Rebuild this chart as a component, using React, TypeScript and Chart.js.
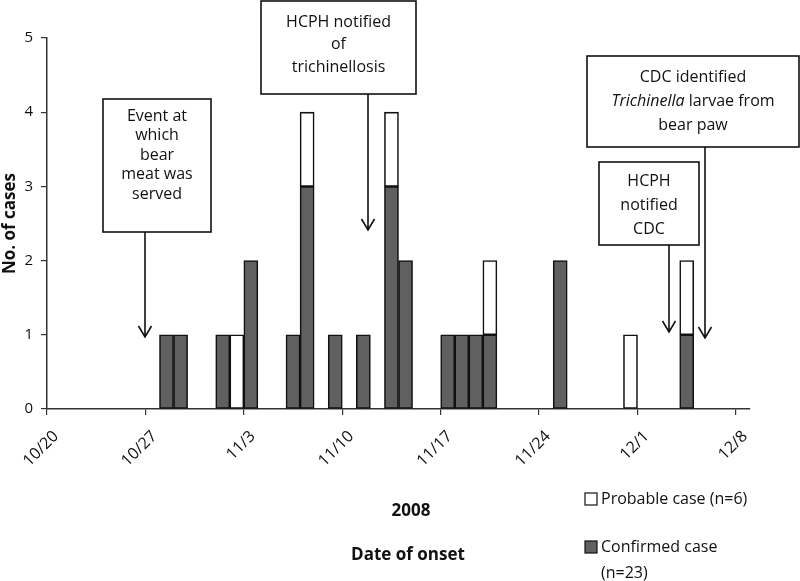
import React, { useEffect, useRef } from "react";
import { Chart, registerables } from "chart.js";

Chart.register(...registerables);

// Data
const onsetDates = ["10/28", "10/29", "11/1", "11/2", "11/3", "11/6", "11/7", "11/9", "11/11", "11/13", "11/14", "11/17", "11/18", "11/19", "11/20", "11/25", "11/30", "12/4"];
const confirmedCases = [1, 1, 1, 0, 2, 1, 3, 1, 1, 3, 2, 1, 1, 1, 1, 2, 0, 1];
const probableCases = [0, 0, 0, 1, 0, 0, 1, 0, 0, 1, 0, 0, 0, 0, 1, 0, 1, 1];
const tickLabels = ["10/20", "10/27", "11/3", "11/10", "11/17", "11/24", "12/1", "12/8"];
const yTicks = [0, 1, 2, 3, 4, 5];
const startDate = "10/20";
const year = 2008;

const FONT = "'Open Sans', 'Noto Sans', sans-serif";

function dayIndex(md: string): number {
  const [m, d] = md.split("/").map(Number);
  const [sm, sd] = startDate.split("/").map(Number);
  return (Date.UTC(year, m - 1, d) - Date.UTC(year, sm - 1, sd)) / 86400000;
}

const annotations = [
  { box: [103, 99, 211, 232], lines: [["Event at"], ["which"], ["bear"], ["meat was"], ["served"]], firstY: 116, step: 19.6, arrow: [145, 232, 337] },
  { box: [261, 1, 416, 94], lines: [["HCPH notified"], ["of"], ["trichinellosis"]], firstY: 22, step: 22.5, arrow: [368, 94, 230] },
  { box: [587, 56, 799, 147], lines: [["CDC identified"], ["*Trichinella", " larvae from"], ["bear paw"]], firstY: 77, step: 24, arrow: [705, 147, 338] },
  { box: [599, 162, 699, 245], lines: [["HCPH"], ["notified"], ["CDC"]], firstY: 181, step: 24, arrow: [669, 245, 332] },
];

const overlayPlugin = {
  id: "overlay",
  afterDraw(chart: any) {
    const ctx = chart.ctx as CanvasRenderingContext2D;
    ctx.save();
    ctx.strokeStyle = "#111";
    ctx.fillStyle = "#111";
    ctx.lineWidth = 1.6;
    ctx.textBaseline = "middle";
    for (const a of annotations) {
      const [x1, y1, x2, y2] = a.box;
      ctx.fillStyle = "#fff";
      ctx.fillRect(x1, y1, x2 - x1, y2 - y1);
      ctx.strokeRect(x1, y1, x2 - x1, y2 - y1);
      ctx.fillStyle = "#111";
      const cx = (x1 + x2) / 2;
      a.lines.forEach((parts, i) => {
        const y = a.firstY + i * a.step;
        const segs = parts.map((p) => {
          const italic = p.startsWith("*");
          const text = italic ? p.slice(1) : p;
          const font = `${italic ? "italic " : ""}16px ${FONT}`;
          ctx.font = font;
          return { text, font, w: ctx.measureText(text).width };
        });
        const total = segs.reduce((s, g) => s + g.w, 0);
        let x = cx - total / 2;
        ctx.textAlign = "left";
        for (const g of segs) {
          ctx.font = g.font;
          ctx.fillText(g.text, x, y);
          x += g.w;
        }
      });
      const [ax, ay1, ay2] = a.arrow;
      ctx.beginPath();
      ctx.moveTo(ax, ay1);
      ctx.lineTo(ax, ay2);
      ctx.moveTo(ax - 6.5, ay2 - 11);
      ctx.lineTo(ax, ay2);
      ctx.lineTo(ax + 6.5, ay2 - 11);
      ctx.stroke();
    }
    // x axis titles
    ctx.textAlign = "center";
    ctx.font = `bold 17px ${FONT}`;
    ctx.fillText(String(year), 411, 511);
    ctx.fillText("Date of onset", 408, 555);
    // legend
    const items = [
      { color: "#fff", lines: ["Probable case (n=6)"], y: 499 },
      { color: "#606060", lines: ["Confirmed case", "(n=23)"], y: 547 },
    ];
    ctx.textAlign = "left";
    ctx.font = `16px ${FONT}`;
    for (const it of items) {
      ctx.fillStyle = it.color;
      ctx.fillRect(585, it.y - 6, 12, 12);
      ctx.lineWidth = 1.2;
      ctx.strokeRect(585, it.y - 6, 12, 12);
      ctx.fillStyle = "#111";
      it.lines.forEach((l, i) => ctx.fillText(l, 601, it.y + i * 26));
    }
    ctx.restore();
  },
};

export default function App() {
  const ref = useRef<HTMLCanvasElement>(null);
  useEffect(() => {
    document.body.style.margin = "0";
    const toPoints = (vals: number[]) =>
      onsetDates.map((d, i) => ({ x: dayIndex(d) + 0.5, y: vals[i] === 0 ? null : vals[i] }));
    const chart = new Chart(ref.current!, {
      type: "bar",
      data: {
        datasets: [
          {
            label: "Confirmed case (n=23)",
            data: toPoints(confirmedCases) as any,
            backgroundColor: "#606060",
            borderColor: "#111",
            borderWidth: 1.6,
            borderSkipped: false,
            barPercentage: 1,
            categoryPercentage: 1,
          },
          {
            label: "Probable case (n=6)",
            data: toPoints(probableCases) as any,
            backgroundColor: "#fff",
            borderColor: "#111",
            borderWidth: 1.6,
            borderSkipped: false,
            barPercentage: 1,
            categoryPercentage: 1,
          },
        ],
      },
      options: {
        responsive: false,
        animation: false,
        devicePixelRatio: 1,
        layout: { padding: { left: 0, top: 38, right: 50, bottom: 0 } },
        plugins: { legend: { display: false }, tooltip: { enabled: false } },
        scales: {
          x: {
            type: "linear",
            stacked: true,
            offset: false,
            min: 0,
            max: dayIndex(tickLabels[tickLabels.length - 1]) + 1,
            afterBuildTicks: (s: any) => {
              s.ticks = tickLabels.map((t) => ({ value: dayIndex(t) }));
            },
            afterFit: (s: any) => {
              s.height = 172;
            },
            ticks: {
              autoSkip: false,
              minRotation: 45,
              maxRotation: 45,
              padding: 12,
              labelOffset: 9,
              color: "#111",
              font: { family: FONT, size: 16 },
              callback: (v: any) => {
                const idx = tickLabels.findIndex((t) => dayIndex(t) === v);
                return idx >= 0 ? tickLabels[idx] : "";
              },
            },
            grid: { display: true, offset: false, drawOnChartArea: false, drawTicks: true, tickLength: 6, color: "#333", lineWidth: 1.2 },
            border: { display: true, color: "#333", width: 1.5 },
          },
          y: {
            stacked: true,
            min: yTicks[0],
            max: yTicks[yTicks.length - 1],
            afterFit: (s: any) => {
              s.width = 47;
            },
            ticks: { stepSize: 1, padding: 8, color: "#111", font: { family: FONT, size: 15 } },
            grid: { display: true, drawOnChartArea: false, drawTicks: true, tickLength: 6, color: "#333", lineWidth: 1.2 },
            border: { display: true, color: "#333", width: 1.5 },
            title: { display: true, text: "No. of cases", color: "#111", padding: 0, font: { family: FONT, size: 17, weight: "bold" } },
          },
        },
      },
      plugins: [overlayPlugin],
    });
    return () => chart.destroy();
  }, []);
  return (
    <div style={{ width: 800, height: 581 }}>
      <canvas ref={ref} width={800} height={581} />
    </div>
  );
}
